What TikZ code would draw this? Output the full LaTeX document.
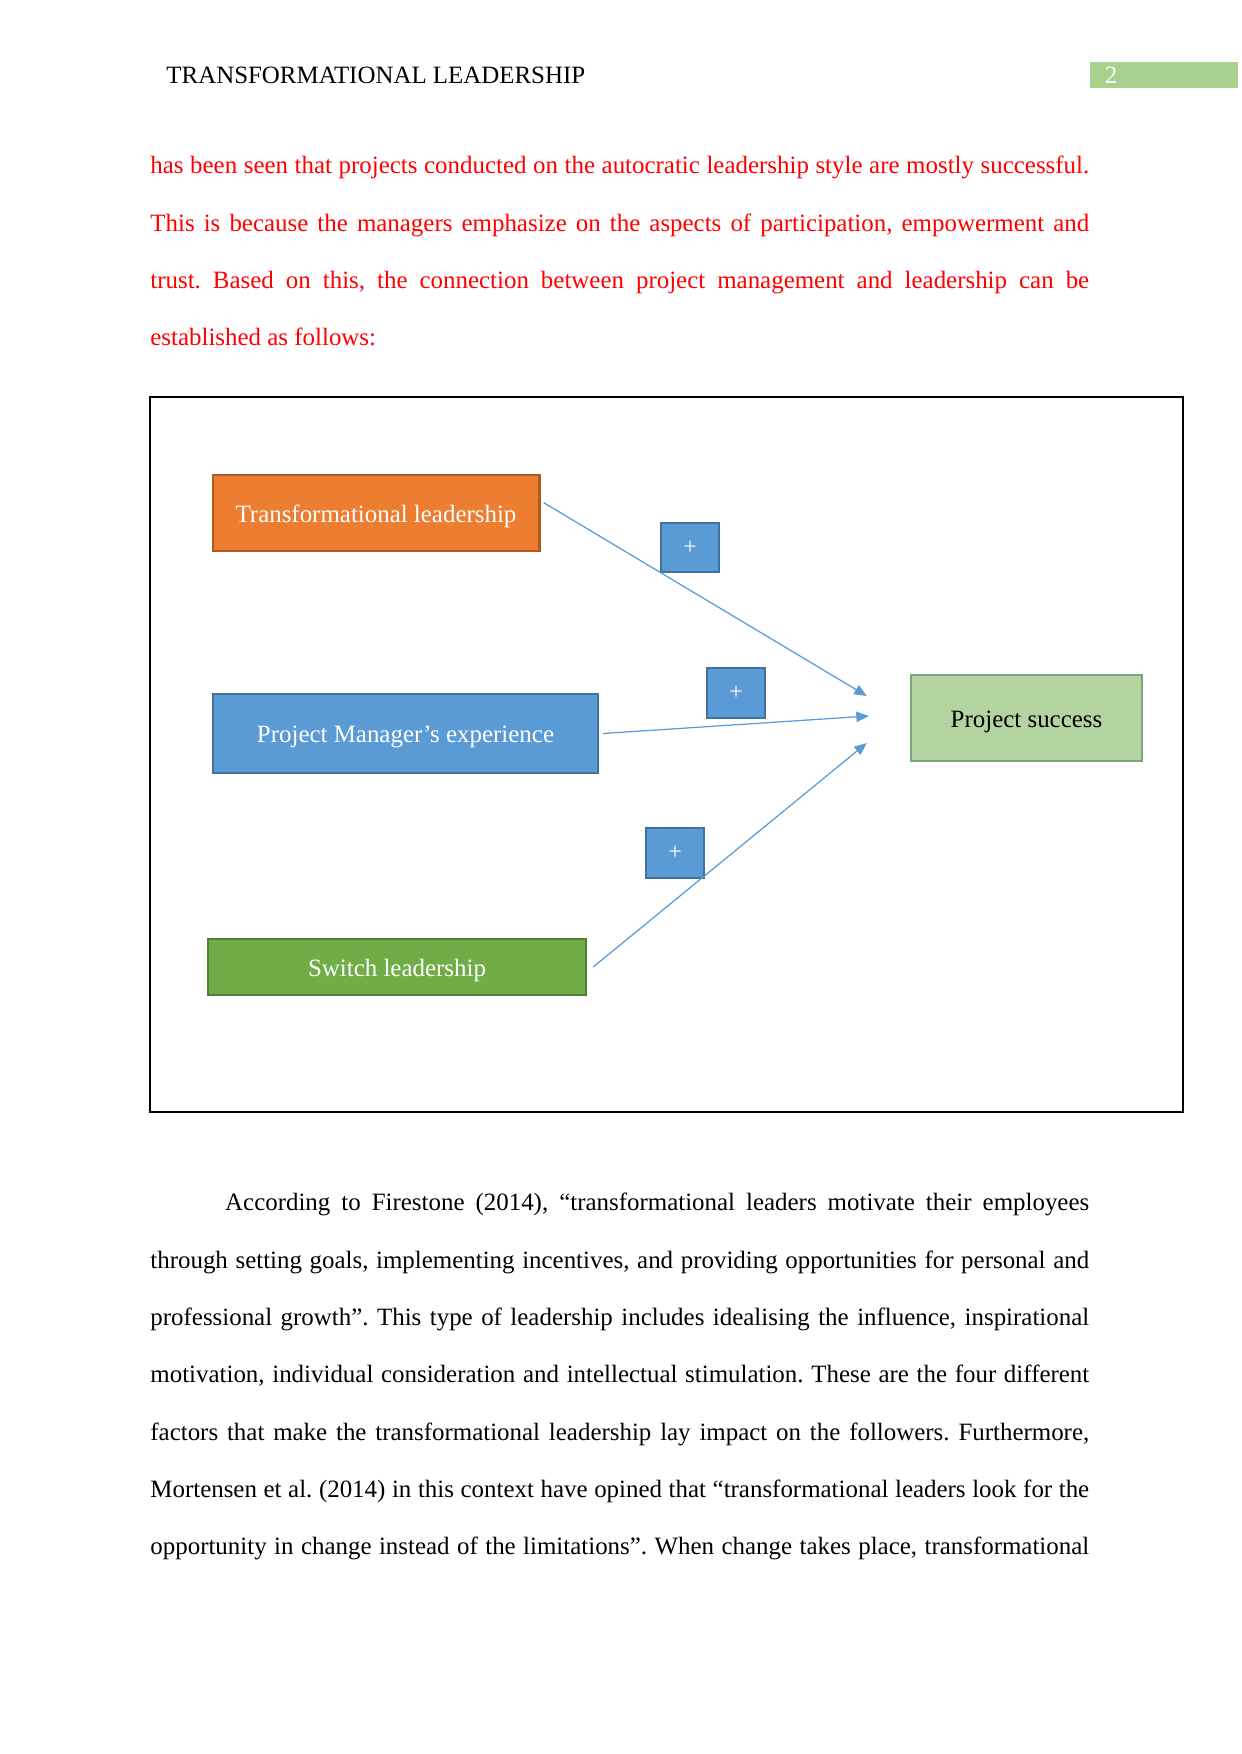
\documentclass[tikz,border=0pt]{standalone}
\usepackage{fontspec}
\setmainfont{Liberation Serif}
\usetikzlibrary{
    arrows.meta,
    positioning,
    calc
}
\definecolor{OrangeFill}{RGB}{237,125,49}
\definecolor{OrangeEdge}{RGB}{174,90,33}
\definecolor{BlueFill}{RGB}{91,155,213}
\definecolor{BlueEdge}{RGB}{65,113,156}
\definecolor{GreenFill}{RGB}{112,173,71}
\definecolor{GreenEdge}{RGB}{80,126,50}
\definecolor{SuccessFill}{RGB}{179,211,161}
\definecolor{SuccessEdge}{RGB}{122,165,122}
\definecolor{PageGreen}{RGB}{169,209,142}
\tikzset{
  factor/.style = {draw, line width=1pt, text=white, inner sep=0pt,
                   text height=11.5pt, text depth=2.6pt,
                   font=\fontsize{12}{14}\selectfont},
  sign/.style   = {draw=BlueEdge, fill=BlueFill, line width=1pt, text=white,
                   minimum width=27.5pt, minimum height=24pt, inner sep=0pt,
                   font=\fontsize{11.5}{13}\selectfont},
  link/.style   = {-{Triangle[length=6pt,width=5pt]}, BlueFill, line width=0.6pt},
  para/.style   = {anchor=north west, inner sep=0pt, text width=452pt,
                   align=justify, font=\fontsize{12}{27.6}\selectfont\frenchspacing}
}

\begin{document}
\begin{tikzpicture}[x=0.016922cm, y=-0.016922cm]
\useasboundingbox (0,0) rectangle (1241,1754);
\node[anchor=base west, inner sep=0pt, font=\fontsize{12}{14}\selectfont] (head) at (166,84) {TRANSFORMATIONAL LEADERSHIP};
\fill[PageGreen] (1090,62) rectangle (1238,88);
\node[text=white, inner sep=0pt, font=\fontsize{12}{14}\selectfont] (page) at (1111,75) {2};
\node[para, text=red] (intro) at (150,156) {has been seen that projects conducted on the autocratic leadership style are mostly successful.\linebreak
This is because the managers emphasize on the aspects of participation, empowerment and\linebreak
trust. Based on this, the connection between project management and leadership can be\linebreak
established as follows:};
\draw[line width=0.7pt] (150,397) rectangle (1183,1112);
\draw[line width=1.4pt] (150,1112) -- (1183,1112);
\node[factor, fill=OrangeFill, draw=OrangeEdge, minimum width=157.4pt, minimum height=36.5pt] (tl) at (376,513) {Transformational leadership};
\node[factor, fill=BlueFill, draw=BlueEdge, minimum width=185.3pt, minimum height=37.9pt] (pm) at (405.5,733.5) {Project Manager's experience};
\node[factor, fill=GreenFill, draw=GreenEdge, minimum width=181.9pt, minimum height=26.9pt] (sw) at (397,967) {Switch leadership};
\node[factor, fill=SuccessFill, draw=SuccessEdge, text=black, minimum width=111.4pt, minimum height=41.8pt] (ps) at (1026.5,718) {Project success};
\node[sign] (p1) at (690,547.5) {+};
\node[sign] (p2) at (736,693) {+};
\node[sign] (p3) at (675,853) {+};
\coordinate (in1) at ($(ps.west)+(-43,-22)$);
\coordinate (in2) at ($(ps.west)+(-41,-2)$);
\coordinate (in3) at ($(ps.west)+(-43,25)$);
\draw[link] ([xshift=1.5pt,yshift=5pt]tl.east) -- (in1);
\draw[link] ([xshift=2pt]pm.east) -- (in2);
\draw[link] ([xshift=3pt]sw.east) -- (in3);
\node[para] (body) at (150,1193) {\hspace*{36pt}According to Firestone (2014), ``transformational leaders motivate their employees\linebreak
through setting goals, implementing incentives, and providing opportunities for personal and\linebreak
professional growth''. This type of leadership includes idealising the influence, inspirational\linebreak
motivation, individual consideration and intellectual stimulation. These are the four different\linebreak
factors that make the transformational leadership lay impact on the followers. Furthermore,\linebreak
Mortensen et al. (2014) in this context have opined that ``transformational leaders look for the\linebreak
opportunity in change instead of the limitations''. When change takes place, transformational\linebreak};
\end{tikzpicture}
\end{document}
